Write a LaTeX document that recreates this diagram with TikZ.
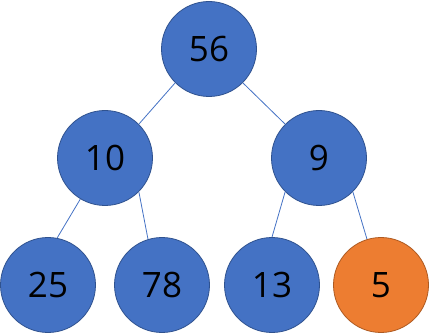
\documentclass[tikz,border=0pt]{standalone}
\usepackage{fontspec}
\setmainfont{Open Sans}
\definecolor{nodeblue}{HTML}{4472C4}
\definecolor{nodeborder}{HTML}{2F528F}
\definecolor{nodeorange}{HTML}{ED7D31}
\definecolor{orangeborder}{HTML}{AE5A21}
\begin{document}
\begin{tikzpicture}[x=1pt,y=-1pt,
  vert/.style={circle,fill=nodeblue,draw=nodeborder,line width=0.8pt,minimum size=95pt,inner sep=0pt,font=\fontsize{35}{40}\selectfont},
  hot/.style={vert,fill=nodeorange,draw=orangeborder},
  edge/.style={draw=nodeblue,line width=0.8pt}]
\useasboundingbox (0,0) rectangle (429,334);
\node[vert] (n56) at (209,49) {56};
\node[vert] (n10) at (105,158) {10};
\node[vert] (n9) at (319,158) {9};
\node[vert] (n25) at (48,285) {25};
\node[vert] (n78) at (162,285) {78};
\node[vert] (n13) at (272,285) {13};
\node[hot] (n5) at (381,285) {5};
\draw[edge] (n56.225) -- (n10.45);
\draw[edge] (n56.-45) -- (n9.135);
\draw[edge] (n10.239) -- (n25.79);
\draw[edge] (n10.-45) -- (n78.107);
\draw[edge] (n9.225) -- (n13.90);
\draw[edge] (n9.-45) -- (n5.107);
\end{tikzpicture}
\end{document}
